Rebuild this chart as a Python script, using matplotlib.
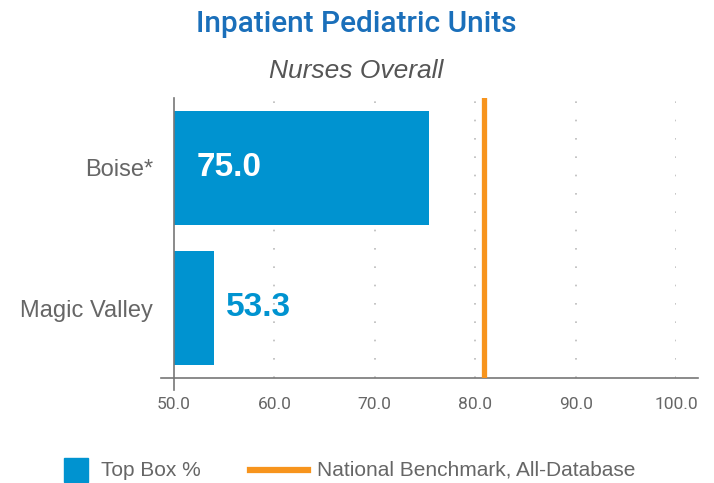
import matplotlib
matplotlib.use("Agg")
import matplotlib.pyplot as plt
from matplotlib.lines import Line2D
from matplotlib.patches import Rectangle

categories = ["Boise*", "Magic Valley"]
bar_values = [75.4, 54.0]
value_labels = ["75.0", "53.3"]
benchmark = 80.9
x_ticks = [50.0, 60.0, 70.0, 80.0, 90.0, 100.0]

BLUE = "#0093d0"
ORANGE = "#f7941d"
GREY = "#666666"

fig = plt.figure(figsize=(7.14, 4.83), dpi=100)
ax = fig.add_axes([174 / 714, 1 - 378 / 483, (676 - 174) / 714, (378 - 98) / 483])

ypos = list(range(len(categories)))
ax.barh(ypos, [v - 50 for v in bar_values], left=50, height=0.814, color=BLUE, zorder=2)
ax.axvline(benchmark, color=ORANGE, linewidth=3.8, zorder=3)

# value labels: inside for long bar, outside for short one
ax.text(52.3, 0, value_labels[0], color="white", fontsize=24, fontweight="bold",
        va="center", ha="left", family="Liberation Sans")
ax.text(55.2, 1, value_labels[1], color=BLUE, fontsize=24, fontweight="bold",
        va="center", ha="left", family="Liberation Sans")

ax.set_xlim(50, 100)
ax.set_ylim(1.5, -0.5)
ax.set_yticks(ypos)
ax.set_yticklabels(categories, fontsize=17, color=GREY, family="Liberation Sans")
ax.tick_params(axis="y", length=0, pad=15)
ax.set_xticks(x_ticks)
ax.set_xticklabels([f"{t:.1f}" for t in x_ticks], fontsize=12.5, color=GREY,
                   family="Roboto")
ax.tick_params(axis="x", length=0, pad=14)

for t in x_ticks[1:]:
    ax.axvline(t, color="#bbbbbb", linestyle=(0, (1, 10)), linewidth=1.2, zorder=1)

for s in ["top", "right", "bottom"]:
    ax.spines[s].set_visible(False)
ax.spines["left"].set_color("#777777")
ax.spines["left"].set_linewidth(1.2)
ax.spines["left"].set_bounds(1.5, -0.5)

# long bottom axis line + small tick at 50
ax.add_line(Line2D([-13 / 502, 524 / 502], [0, 0], transform=ax.transAxes,
                   color="#777777", linewidth=1.2, clip_on=False))
ax.add_line(Line2D([0, 0], [0, -12 / 280], transform=ax.transAxes,
                   color="#777777", linewidth=1.2, clip_on=False))

fig.text(356 / 714, 1 - 24 / 483, "Inpatient Pediatric Units", ha="center", va="center",
         fontsize=21.5, color="#1a6fba", family="Roboto", fontweight="medium")
fig.text(356 / 714, 1 - 71 / 483, "Nurses Overall", ha="center", va="center",
         fontsize=19, color="#555555", style="italic", family="Liberation Sans")

# legend
fig.patches.append(Rectangle((64 / 714, 1 - 482 / 483), 24 / 714, 24 / 483,
                             transform=fig.transFigure, color=BLUE))
fig.text(101 / 714, 1 - 470 / 483, "Top Box %", va="center", fontsize=15,
         color=GREY, family="Liberation Sans")
fig.lines.append(Line2D([250 / 714, 308 / 714], [1 - 470 / 483] * 2,
                        transform=fig.transFigure, color=ORANGE, linewidth=4.5))
fig.text(317 / 714, 1 - 470 / 483, "National Benchmark, All-Database", va="center",
         fontsize=15, color=GREY, family="Liberation Sans")

fig.savefig("out.png", dpi=100)
